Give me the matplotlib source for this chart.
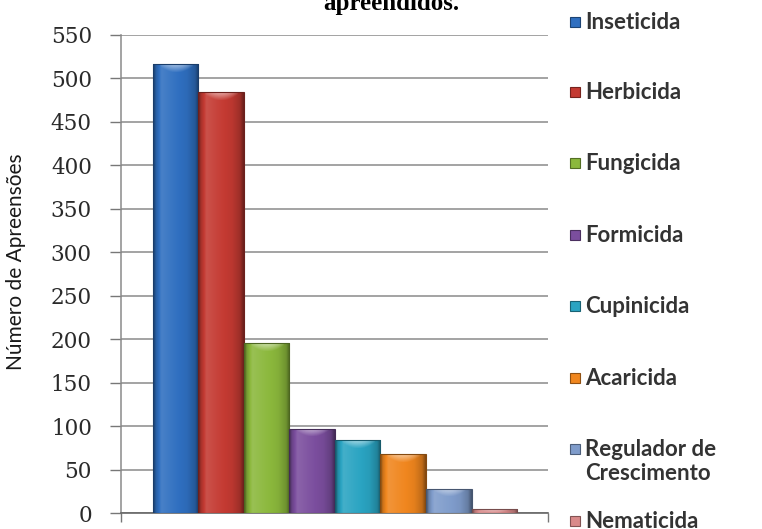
import numpy as np
import matplotlib
matplotlib.use("Agg")
import matplotlib.pyplot as plt
from matplotlib.patches import Rectangle
from matplotlib.colors import to_rgb

# Apreensões por classe de agrotóxico
classes = ["Inseticida", "Herbicida", "Fungicida", "Formicida", "Cupinicida",
           "Acaricida", "Regulador de\nCrescimento", "Nematicida"]
apreensoes = [516, 484, 195, 97, 84, 68, 28, 5]
cores = ["#2f6fc0", "#c43a32", "#8bb83c", "#7b4e9e", "#2aa4c2",
         "#f0861e", "#7f9ccb", "#d98a8a"]
yticks = list(range(0, 551, 50))

W, H = 762, 529
fig = plt.figure(figsize=(W / 100, H / 100), dpi=100)
ax = fig.add_axes([121 / W, 1 - 513 / H, (548 - 121) / W, (513 - 34.7) / H])

x = np.arange(len(classes))
bars = ax.bar(x, apreensoes, width=1.0, color=cores, zorder=3, linewidth=0)


def shade(c, f):
    r = np.array(to_rgb(c))
    if f >= 1:
        return r + (1 - r) * (f - 1)
    return r * f


# horizontal shading profile across each bar (dark edges, lighter middle)
prof_t = np.array([0.0, 0.06, 0.18, 0.4, 0.75, 0.92, 1.0])
prof_f = np.array([0.55, 0.85, 1.12, 1.05, 0.95, 0.8, 0.55])
tt = np.linspace(0, 1, 64)
ff = np.interp(tt, prof_t, prof_f)

for b, c in zip(bars, cores):
    x0, w, h = b.get_x(), b.get_width(), b.get_height()
    img = np.array([[shade(c, f) for f in ff]])
    im = ax.imshow(img, extent=(x0, x0 + w, 0, h), aspect="auto",
                   interpolation="bilinear", zorder=3.5)
    im.set_clip_path(b)
    # lighter rounded cap on the top of each bar
    cap_h = min(h, 9)
    cap = np.zeros((16, 64, 4))
    yy, xx = np.mgrid[0:1:16j, -1:1:64j]
    a = np.clip(1 - (xx ** 2) - (1 - yy) * 0.9, 0, 1) * 0.55
    cap[..., :3] = 1.0
    cap[..., 3] = a * (np.abs(xx) < 0.85)
    im2 = ax.imshow(cap, extent=(x0 + 0.08 * w, x0 + 0.92 * w, h - cap_h, h),
                    aspect="auto", interpolation="bilinear", zorder=3.6,
                    origin="lower")
    im2.set_clip_path(b)
    ax.add_patch(Rectangle((x0, 0), w, h, fill=False, edgecolor=shade(c, 0.55),
                           linewidth=0.8, zorder=3.7))

ax.set_xlim(-1.20, 8.18)
ax.set_ylim(0, 550)
ax.set_yticks(yticks)
ax.set_yticklabels([str(v) for v in yticks], fontfamily="DejaVu Serif",
                   fontsize=15.5, color="#2a2a2a")
ax.tick_params(axis="y", direction="out", length=8, width=1, color="#777777",
               pad=13)
ax.set_xticks([-1.20, 8.18])
ax.set_xticklabels([])
ax.tick_params(axis="x", direction="out", length=6.5, width=1, color="#777777")
ax.grid(axis="y", color="#8a8a8a", linewidth=1.1, zorder=0)
for s in ["top", "right"]:
    ax.spines[s].set_visible(False)
ax.spines["left"].set_color("#8a8a8a")
ax.spines["bottom"].set_color("#666666")
ax.spines["left"].set_linewidth(1.1)
ax.spines["bottom"].set_linewidth(1.2)

fig.text(16 / W, 1 - 262 / H, "Número de Apreensões", rotation=90,
         ha="center", va="center", fontfamily="Lato", fontsize=15,
         color="#1a1a1a")

fig.text(391 / W, 1 - 10 / H, "apreendidos.", ha="center", va="baseline",
         fontfamily="Liberation Serif", fontweight="bold", fontsize=18,
         color="#000000")

# legend entries down the right-hand side
ly = [22, 92, 163, 235, 306, 378, 449, 521]
for lab, c, yc in zip(classes, cores, ly):
    fig.patches.append(Rectangle((570 / W, 1 - (yc + 5) / H), 10 / W, 10 / H,
                                 transform=fig.transFigure, facecolor=c,
                                 edgecolor=shade(c, 0.6), linewidth=0.8))
    fig.text(585 / W, 1 - (yc - 10) / H, lab, ha="left", va="top",
             fontfamily="Lato", fontweight="bold", fontsize=16,
             color="#333333", linespacing=1.15)

fig.savefig("out.png", dpi=100)
